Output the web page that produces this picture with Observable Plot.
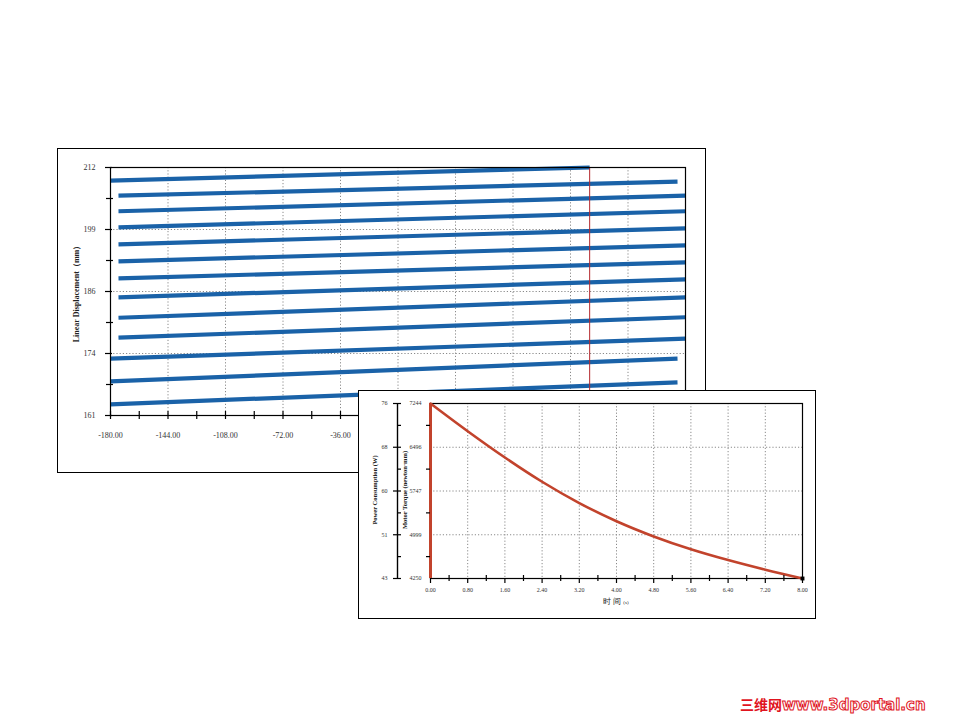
<!DOCTYPE html>
<html>
<head>
<meta charset="utf-8">
<script src="https://cdn.jsdelivr.net/npm/d3@7"></script>
<script src="https://cdn.jsdelivr.net/npm/@observablehq/plot@0.6"></script>
<style>
  html, body { margin: 0; padding: 0; background: #fff; }
  #stage { position: relative; width: 960px; height: 720px; background: #fff; overflow: hidden; font-family: "Liberation Serif", "DejaVu Serif", serif; }
  .panel { position: absolute; box-sizing: border-box; border: 1px solid #000; background: #fff; }
  .panel svg { position: absolute; left: 0; top: 0; }
  .title { position: absolute; white-space: nowrap; font-weight: bold; color: #222; transform: translate(-50%, -50%) rotate(-90deg); }
  .xt { position: absolute; white-space: nowrap; color: #222; transform: translate(-50%, -50%); }
  #wm { position: absolute; left: 740px; top: 694px; white-space: nowrap; font-family: "DejaVu Sans", sans-serif; font-weight: bold; font-size: 15px; }
  #wm .cn { color: #e0141e; font-family: "Noto Sans CJK SC", sans-serif; font-size: 14px; }
  #wm .url { color: #fff; -webkit-text-stroke: 1px #e0141e; letter-spacing: 0px; }
</style>
</head>
<body>
<div id="stage">
  <div class="panel" id="p1" style="left:57px; top:148px; width:649px; height:325px;"></div>
  <div class="title" style="left:76px; top:292px; font-size:8px;">Linear Displacement（mm）</div>
  <div class="panel" id="p2" style="left:358px; top:390px; width:458px; height:229px;"></div>
  <div class="title" style="left:374px; top:490px; font-size:6.5px;">Power Consumption (W)</div>
  <div class="title" style="left:404px; top:490px; font-size:6.5px;">Motor Torque (newton·mm)</div>
  <div class="xt" style="left:616px; top:601px; font-size:8px;">时 间 <span style="font-size:5px">(s)</span></div>
  <div id="wm"><span class="cn">三维网</span><span class="url">www.3dportal.cn</span></div>
</div>
<script>
// ---------- Panel 1: linear displacement vs angle ----------
const angleStart = [-180, -180, -180, -175, -175, -175, -175, -175, -175, -175, -175, -175, -180];
const angleEnd   = [175, 175, 180, 180, 180, 180, 180, 180, 180, 180, 180, 175, 120];
const dispStart  = [163.3, 168.0, 172.7, 177.0, 181.1, 185.3, 189.2, 192.7, 196.2, 199.7, 203.0, 206.2, 209.3];
const dispEnd    = [167.8, 172.7, 176.8, 181.2, 185.3, 189.0, 192.5, 196.0, 199.5, 203.0, 206.2, 209.1, 212.0];
const markerAngle = [120];
const xTicks1 = [-180, -144, -108, -72, -36, 0, 36, 72, 108, 144, 180];
const xMinor1 = [-162, -126, -90, -54, -18, 18, 54, 90, 126, 162];
const yTicks1 = [161, 173.75, 186.5, 199.25, 212];
const yTickLabels1 = ["161", "174", "186", "199", "212"];
const yMinor1 = [167.375, 180.125, 192.875, 205.625];

// ---------- Panel 2: motor torque / power vs time ----------
const timeValues   = [0, 0.8, 1.6, 2.4, 3.2, 4.0, 4.8, 5.6, 6.4, 7.2, 8.0];
const torqueValues = [7244, 6770, 6320, 5905, 5540, 5230, 4970, 4750, 4565, 4400, 4250];
const xTicks2 = [0, 0.8, 1.6, 2.4, 3.2, 4.0, 4.8, 5.6, 6.4, 7.2, 8.0];
const xMinor2 = [0.4, 1.2, 2.0, 2.8, 3.6, 4.4, 5.2, 6.0, 6.8, 7.6];
const torqueTicks = [4250, 4998.5, 5747, 6495.5, 7244];
const torqueLabels = ["4250", "4999", "5747", "6496", "7244"];
const powerLabels = ["43", "51", "60", "68", "76"];
const torqueMinor = [4624.25, 5372.75, 6121.25, 6869.75];

const blue = "#1a62a8";
const gridStyle = {stroke: "#8a8a8a", strokeOpacity: 1, strokeDasharray: "1.2,2"};
const blank = () => "";

const lines = [];
dispStart.forEach((d, i) => {
  lines.push({turn: i, angle: angleStart[i], disp: d});
  lines.push({turn: i, angle: angleEnd[i], disp: dispEnd[i]});
});
const yLab1 = new Map(yTicks1.map((t, i) => [t, yTickLabels1[i]]));
const tk = {stroke: "#000", strokeWidth: 1.2, label: null, tickFormat: blank};

const plot1 = Plot.plot({
  width: 647, height: 323,
  marginLeft: 52, marginRight: 20, marginTop: 18, marginBottom: 57,
  x: {domain: [-180, 180], axis: null, label: null},
  y: {domain: [161, 212], axis: null, label: null},
  style: {fontFamily: "Liberation Serif, serif", fontSize: "8px", background: "transparent", color: "#333"},
  marks: [
    Plot.gridX(xTicks1.slice(1, -1), gridStyle),
    Plot.gridY(yTicks1.slice(1, -1), gridStyle),
    Plot.line(lines, {x: "angle", y: "disp", z: "turn", stroke: blue, strokeWidth: 4.2, strokeLinecap: "butt"}),
    Plot.ruleX(markerAngle, {stroke: "#b3262b", strokeWidth: 1}),
    Plot.frame({stroke: "#000", strokeWidth: 1.2}),
    Plot.axisX({...tk, ticks: xTicks1, tickSize: 8, dy: -4}),
    Plot.axisX({...tk, ticks: xMinor1, tickSize: 8, dy: -4}),
    Plot.axisX({ticks: xTicks1, tickSize: 0, tickPadding: 17, label: null, tickFormat: d => d.toFixed(2)}),
    Plot.axisY({...tk, ticks: yTicks1, tickSize: 7, dx: 2}),
    Plot.axisY({...tk, ticks: yMinor1, tickSize: 7, dx: 3}),
    Plot.axisY({ticks: yTicks1, tickSize: 0, tickPadding: 15, label: null, tickFormat: d => yLab1.get(d)})
  ]
});
document.getElementById("p1").appendChild(plot1);

const curve = timeValues.map((t, i) => ({time: t, torque: torqueValues[i]}));
const tLab = new Map(torqueTicks.map((t, i) => [t, torqueLabels[i]]));
const pLab = new Map(torqueTicks.map((t, i) => [t, powerLabels[i]]));
const red = "#c2432c";

const plot2 = Plot.plot({
  width: 456, height: 227,
  marginLeft: 71, marginRight: 13, marginTop: 12, marginBottom: 40,
  x: {domain: [0, 8], axis: null, label: null},
  y: {domain: [4250, 7244], axis: null, label: null},
  style: {fontFamily: "Liberation Serif, serif", fontSize: "6px", background: "transparent", color: "#333"},
  marks: [
    Plot.gridX(xTicks2.slice(1, -1), gridStyle),
    Plot.gridY(torqueTicks.slice(1, -1), gridStyle),
    Plot.frame({stroke: "#000", strokeWidth: 1.2}),
    Plot.ruleX([timeValues[0]], {y1: torqueValues[torqueValues.length - 1], y2: torqueValues[0], stroke: red, strokeWidth: 3}),
    Plot.line(curve, {x: "time", y: "torque", stroke: red, strokeWidth: 2.6, curve: "monotone-x"}),
    Plot.dot([curve[curve.length - 1]], {x: "time", y: "torque", symbol: "square", r: 2.2, fill: "#000"}),
    Plot.axisX({...tk, ticks: xTicks2, tickSize: 5}),
    Plot.axisX({...tk, ticks: xMinor2, tickSize: 6, dy: -3}),
    Plot.axisX({ticks: xTicks2, tickSize: 0, tickPadding: 9, label: null, tickFormat: d => d.toFixed(2)}),
    Plot.axisY({...tk, ticks: torqueMinor, tickSize: 4}),
    Plot.axisY({ticks: torqueTicks, tickSize: 0, tickPadding: 9, label: null, tickFormat: d => tLab.get(d)}),
    Plot.ruleX([timeValues[0]], {dx: -33, stroke: "#000", strokeWidth: 1.4}),
    Plot.axisY({...tk, ticks: torqueTicks, tickSize: 8, dx: -29}),
    Plot.axisY({...tk, ticks: torqueMinor, tickSize: 4, dx: -29}),
    Plot.axisY({ticks: torqueTicks, tickSize: 0, tickPadding: 10, dx: -33, label: null, tickFormat: d => pLab.get(d)})
  ]
});
document.getElementById("p2").appendChild(plot2);
</script>
</body>
</html>
